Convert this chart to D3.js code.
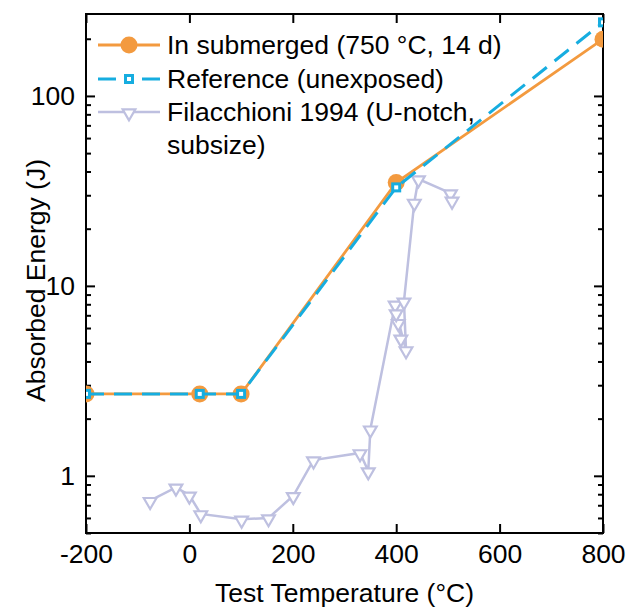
<!DOCTYPE html>
<html>
<head>
<meta charset="utf-8">
<script src="https://cdn.jsdelivr.net/npm/d3@7"></script>
<style>
  body { margin: 0; background: #fff; }
  svg text { font-family: "Liberation Sans", Arial, sans-serif; fill: #000; }
</style>
</head>
<body>
<svg class="chart"></svg>
<script>
// data
var submergedT = [-200, 20, 100, 400, 800];
var submergedE = [2.7, 2.7, 2.7, 35, 199];
var referenceT = [-200, 20, 100, 400, 800];
var referenceE = [2.7, 2.7, 2.7, 33, 244];
var filT = [-76, -26, 0, 22, 101, 153, 201, 240, 330, 346, 350, 398, 404, 409, 400, 419, 415, 435, 443, 505, 508];
var filE = [0.74, 0.87, 0.79, 0.63, 0.59, 0.60, 0.785, 1.21, 1.32, 1.06, 1.76, 8.0, 6.4, 5.3, 7.2, 4.6, 8.3, 27.5, 36.5, 30.8, 28.2];
var xTicks = [-200, 0, 200, 400, 600, 800];
var yTicks = [1, 10, 100];
var legendLabels = ["In submerged (750 \u00b0C, 14 d)", "Reference (unexposed)", "Filacchioni 1994 (U-notch,", "subsize)"];

function show() {
    'use strict';
    var width = 627, height = 609;
    var left = 86, right = 603, top = 14, bottom = 533;

    var orange = "#f39a3f", blue = "#16ade0", lav = "#bec0e0";

    var svg = d3.select(".chart")
        .attr("width", width)
        .attr("height", height);

    var x = d3.scaleLinear().domain([-200, 800]).range([left, right]);
    var y = d3.scaleLog().domain([0.5, 270]).range([bottom, top]);

    svg.append("defs").append("clipPath")
        .attr("id", "clip-1")
        .append("rect")
        .attr("x", left).attr("y", top)
        .attr("width", right - left).attr("height", bottom - top);

    // minor ticks on the log axis
    var minor = [];
    [0.1, 1, 10, 100].forEach(function (d) {
        for (var k = 2; k <= 9; k++) {
            var v = d * k;
            if (v >= 0.5 && v <= 270) minor.push(v);
        }
    });

    var fs = "26.5px";

    // bottom axis
    var gx = svg.append("g")
        .attr("transform", "translate(0," + bottom + ")")
        .call(d3.axisBottom(x).tickValues(xTicks).tickSize(-9).tickPadding(11)
            .tickFormat(function (d) { return d; }));
    gx.selectAll("text").style("font-size", fs).attr("dy", "0.71em");

    // top axis
    svg.append("g")
        .attr("transform", "translate(0," + top + ")")
        .call(d3.axisTop(x).tickValues(xTicks).tickSize(-9).tickFormat(""));

    // left axis
    var gy = svg.append("g")
        .attr("transform", "translate(" + left + ",0)")
        .call(d3.axisLeft(y).tickValues(yTicks).tickSize(-9).tickPadding(11)
            .tickFormat(d3.format("d")));
    gy.selectAll("text").style("font-size", fs);
    svg.append("g")
        .attr("transform", "translate(" + left + ",0)")
        .call(d3.axisLeft(y).tickValues(minor).tickSize(-5).tickFormat(""));

    // right axis
    svg.append("g")
        .attr("transform", "translate(" + right + ",0)")
        .call(d3.axisRight(y).tickValues(yTicks).tickSize(-9).tickFormat(""));
    svg.append("g")
        .attr("transform", "translate(" + right + ",0)")
        .call(d3.axisRight(y).tickValues(minor).tickSize(-5).tickFormat(""));

    svg.selectAll(".domain").remove();
    svg.selectAll(".tick line").attr("stroke", "#000").attr("stroke-width", 2);

    svg.append("rect")
        .attr("x", left).attr("y", top)
        .attr("width", right - left).attr("height", bottom - top)
        .attr("fill", "none").attr("stroke", "#000").attr("stroke-width", 2);

    // axis titles
    svg.append("text")
        .attr("x", (left + right) / 2).attr("y", 602)
        .attr("text-anchor", "middle")
        .style("font-size", fs)
        .text("Test Temperature (\u00b0C)");
    svg.append("text")
        .attr("transform", "translate(45," + ((top + bottom) / 2 + 7) + ") rotate(-90)")
        .attr("text-anchor", "middle")
        .style("font-size", fs)
        .text("Absorbed Energy (J)");

    var line = d3.line()
        .x(function (d) { return x(d[0]); })
        .y(function (d) { return y(d[1]); });

    var plot = svg.append("g").attr("clip-path", "url(#clip-1)");

    var fil = d3.zip(filT, filE),
        sub = d3.zip(submergedT, submergedE),
        ref = d3.zip(referenceT, referenceE);

    var tri = d3.symbol().type(d3.symbolTriangle).size(70);

    // Filacchioni
    plot.append("path").datum(fil)
        .attr("d", line).attr("fill", "none")
        .attr("stroke", lav).attr("stroke-width", 2.5);
    plot.selectAll(".tri").data(fil).enter()
        .append("path")
        .attr("class", "tri")
        .attr("d", tri)
        .attr("transform", function (d) {
            return "translate(" + x(d[0]) + "," + (y(d[1]) + 1) + ") rotate(180)";
        })
        .attr("fill", "#fff").attr("stroke", lav).attr("stroke-width", 2.2);

    // submerged
    plot.append("path").datum(sub)
        .attr("d", line).attr("fill", "none")
        .attr("stroke", orange).attr("stroke-width", 2.8);
    plot.selectAll(".dot").data(sub).enter()
        .append("circle")
        .attr("class", "dot")
        .attr("cx", function (d) { return x(d[0]); })
        .attr("cy", function (d) { return y(d[1]); })
        .attr("r", 8.5)
        .attr("fill", orange);

    // reference
    plot.append("path").datum(ref)
        .attr("d", line).attr("fill", "none")
        .attr("stroke", blue).attr("stroke-width", 3)
        .attr("stroke-dasharray", "18,10");
    plot.selectAll(".sq").data(ref).enter()
        .append("rect")
        .attr("class", "sq")
        .attr("x", function (d) { return x(d[0]) - 3.5; })
        .attr("y", function (d) { return y(d[1]) - 3.5; })
        .attr("width", 7).attr("height", 7)
        .attr("fill", "#fff").attr("stroke", blue).attr("stroke-width", 3);

    // legend
    var lg = svg.append("g");
    var lx0 = 98, lx1 = 160, lmid = 129, tx = 167;
    var ly = [45, 79, 112];

    lg.append("line").attr("x1", lx0).attr("x2", lx1).attr("y1", ly[0]).attr("y2", ly[0])
        .attr("stroke", orange).attr("stroke-width", 2.8);
    lg.append("circle").attr("cx", lmid).attr("cy", ly[0]).attr("r", 8.5).attr("fill", orange);

    lg.append("line").attr("x1", lx0).attr("x2", lx1).attr("y1", ly[1]).attr("y2", ly[1])
        .attr("stroke", blue).attr("stroke-width", 3).attr("stroke-dasharray", "18,26");
    lg.append("rect").attr("x", lmid - 3.5).attr("y", ly[1] - 3.5).attr("width", 7).attr("height", 7)
        .attr("fill", "#fff").attr("stroke", blue).attr("stroke-width", 3);

    lg.append("line").attr("x1", lx0).attr("x2", lx1).attr("y1", ly[2]).attr("y2", ly[2])
        .attr("stroke", lav).attr("stroke-width", 2.5);
    lg.append("path").attr("d", tri)
        .attr("transform", "translate(" + lmid + "," + (ly[2] + 1) + ") rotate(180)")
        .attr("fill", "#fff").attr("stroke", lav).attr("stroke-width", 2.2);

    var ty = [ly[0], ly[1], ly[2], ly[2] + 33];
    lg.selectAll(".lt").data(legendLabels).enter()
        .append("text")
        .attr("class", "lt")
        .attr("x", tx)
        .attr("y", function (d, i) { return ty[i]; })
        .attr("dy", "0.35em")
        .style("font-size", fs)
        .text(function (d) { return d; });
}
show();
</script>
</body>
</html>
